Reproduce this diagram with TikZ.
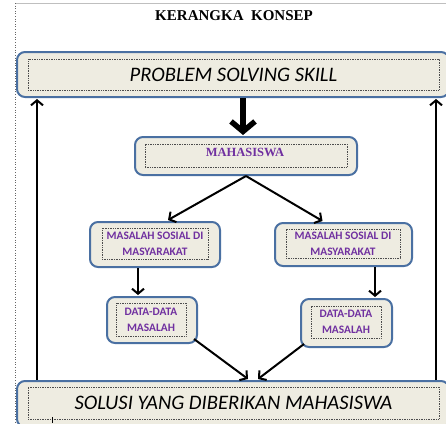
\documentclass[tikz,border=0pt]{standalone}
\usepackage{fontspec}
\setmainfont{Liberation Serif}
\newfontfamily\calibri{Carlito}
\usetikzlibrary{arrows.meta,calc}
\definecolor{bordc}{RGB}{74,112,162}
\definecolor{boxfill}{RGB}{238,236,225}
\definecolor{purp}{RGB}{112,48,160}
\begin{document}
\begin{tikzpicture}[x=1pt,y=-1pt,
  outer/.style={draw=bordc, line width=2pt, fill=boxfill, rounded corners=8pt, inner sep=0pt},
  inner/.style={draw=black!70, densely dotted, line width=0.7pt, inner sep=0pt, align=center},
  bigtxt/.style={font=\calibri\itshape\fontsize{20.6}{24}\selectfont, text=black},
  smalltxt/.style={font=\calibri\bfseries\fontsize{11.4}{16}\selectfont, text=purp},
  arr/.style={line width=2pt, -{Straight Barb[length=5pt,width=12pt,line width=2pt]}},
  bigarr/.style={line width=5.5pt, -{Straight Barb[length=10pt,width=24pt]}}]
\useasboundingbox (0,0) rectangle (446,423);
\clip (0,0) rectangle (446,423);
% page frame
\draw[black!25, line width=0.8pt] (15,3) -- (446,3);
\draw[black!60, dotted, line width=0.6pt] (15,3) -- (15,423);
% title
\node (title) at (234,16) {\fontsize{15}{18}\selectfont\bfseries KERANGKA\ \ KONSEP};
% top box
\node[outer, minimum width=432pt, minimum height=45pt] (top) at (233,74.5) {};
\node[inner, minimum width=411pt, minimum height=31pt, bigtxt] (topin) at (233.5,74.5) {PROBLEM SOLVING SKILL};
% mahasiswa
\node[outer, minimum width=222pt, minimum height=38pt] (maha) at (246,156) {};
\node[inner, minimum width=202pt, minimum height=23pt] (mahain) at (246,155.5) {};
\node[text=purp, font=\fontsize{12.5}{14}\selectfont\bfseries] (mahat) at (245,152) {MAHASISWA};
% masalah sosial
\node[outer, minimum width=130pt, minimum height=45pt] (msl) at (155,244.5) {};
\node[inner, minimum width=106pt, minimum height=31pt, smalltxt] (mslin) at (155,243.5) {MASALAH SOSIAL DI\\MASYARAKAT};
\node[outer, minimum width=137pt, minimum height=43pt] (msr) at (343.5,244.5) {};
\node[inner, minimum width=114pt, minimum height=29pt, smalltxt] (msrin) at (343,243.5) {MASALAH SOSIAL DI\\MASYARAKAT};
% data-data
\node[outer, minimum width=90pt, minimum height=46pt] (dl) at (152,320) {};
\node[inner, minimum width=70pt, minimum height=33pt, smalltxt] (dlin) at (151,319.5) {DATA-DATA\\MASALAH};
\node[outer, minimum width=91pt, minimum height=48pt] (dr) at (346.5,323) {};
\node[inner, minimum width=70pt, minimum height=32pt, smalltxt] (drin) at (346,322) {DATA-DATA\\MASALAH};
% solusi
\node[outer, minimum width=432pt, minimum height=46pt] (sol) at (233,404) {};
\node[inner, minimum width=411pt, minimum height=32pt, bigtxt] (solin) at (233.5,403) {SOLUSI YANG DIBERIKAN MAHASISWA};
% helper coordinates
\coordinate (bx) at (243,0);
\coordinate (lx) at (138,0);
\coordinate (rx) at (375,0);
\coordinate (sl) at (37,0);
\coordinate (sr) at (436,0);
% connectors
\draw[bigarr] (top.south -| bx) -- ($(maha.north -| bx)+(0,-1)$);
\draw[arr] (maha.south) -- ($(msl.north)+(13,-1)$);
\draw[arr] (maha.south) -- ($(msr.north)+(-21,-1)$);
\draw[arr] (msl.south -| lx) -- ($(dl.north -| lx)+(0,-1)$);
\draw[arr] (msr.south -| rx) -- ($(dr.north -| rx)+(0,-1)$);
\draw[arr] ($(dl.south east)+(-4,-5)$) -- ($(sol.north)+(15,-1)$);
\draw[arr] ($(dr.south west)+(4,-4)$) -- ($(sol.north)+(25,-1)$);
\draw[arr] (sol.north -| sl) -- ($(top.south -| sl)+(0,1)$);
\draw[arr] (sol.north -| sr) -- ($(top.south -| sr)+(0,1)$);
% small mark
\draw[black, line width=0.6pt] (52,417) -- (52,423);
\end{tikzpicture}
\end{document}
